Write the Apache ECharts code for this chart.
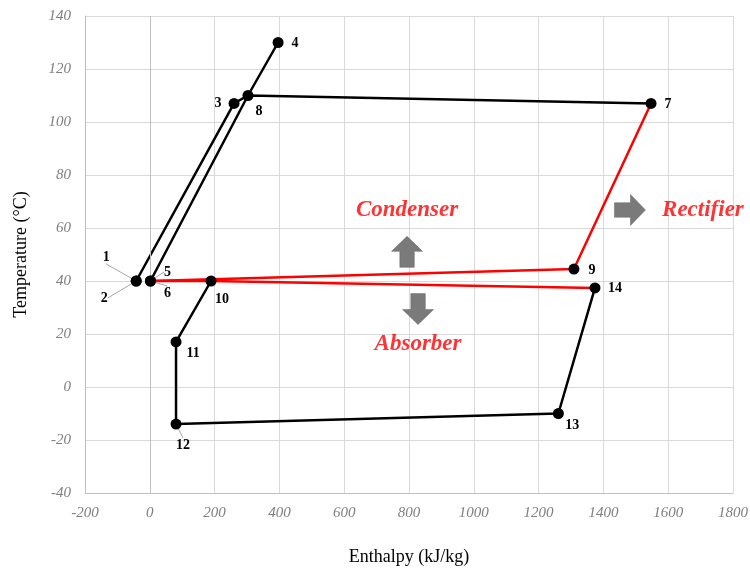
<!DOCTYPE html>
<html><head><meta charset="utf-8">
<script src="https://cdn.jsdelivr.net/npm/echarts@6/dist/echarts.min.js"></script>
<style>html,body{margin:0;padding:0;background:#fff}#c{width:750px;height:569px}</style>
</head><body><div id="c"></div>
<script>
// State points: [enthalpy kJ/kg, temperature °C]
const pointNames = ['1','2','3','4','5','6','7','8','9','10','11','12','13','14'];
const pointH = [-42, -42, 260, 396, 2, 2, 1547, 303, 1309, 189, 81, 81, 1261, 1374];
const pointT = [40, 40, 107, 130, 40, 40, 107, 110, 44.5, 40, 17, -14, -10, 37.4];
// label offsets in px (presentation)
const labelOffsets = {
  '1': [-30, -24], '2': [-32, 17], '3': [-16, 0], '4': [17, 1], '5': [17, -9], '6': [17, 12],
  '7': [17, 1], '8': [11, 16], '9': [18, 1], '10': [11, 18], '11': [17, 11], '12': [7, 21],
  '13': [14, 12], '14': [20, 1]
};
const leaderLabels = ['1', '2', '5', '6', '12'];
// black cycle paths (by point name)
const blackPaths = [['1','3','8','7'], ['6','8','4'], ['10','11','12','13','14']];
const redPaths = [['7','9','5'], ['14','10','6']];
// annotations
const annoText = ['Condenser', 'Absorber', 'Rectifier'];
const annoH = [794, 828, 1581];
const annoT = [66.8, 16.2, 66.8];
const arrowDir = ['up', 'down', 'right'];
const arrowH = [794, 828, 1482];
const arrowT = [51, 29.4, 66.8];

const pt = n => { const i = pointNames.indexOf(n); return [pointH[i], pointT[i]]; };
const serif = '"Liberation Serif", "DejaVu Serif", serif';

const arrowPaths = {
  right: 'path://M0,8 L16,8 L16,0 L31,15 L16,30 L16,22 L0,22 Z',
  up: 'path://M8,31 L8,15 L0,15 L15,0 L30,15 L22,15 L22,31 Z',
  down: 'path://M8,0 L8,16 L0,16 L15,31 L30,16 L22,16 L22,0 Z'
};

const series = [];
blackPaths.forEach(p => series.push({
  type: 'line', data: p.map(pt), symbol: 'none', z: 2,
  lineStyle: { color: '#000', width: 2.5 }
}));
redPaths.forEach(p => series.push({
  type: 'line', data: p.map(pt), symbol: 'none', z: 3,
  lineStyle: { color: '#ff0000', width: 2.5 }
}));
// points without leader lines
const plainIdx = pointNames.map((n, i) => i).filter(i => leaderLabels.indexOf(pointNames[i]) < 0);
const leaderIdx = pointNames.map((n, i) => i).filter(i => leaderLabels.indexOf(pointNames[i]) >= 0);
series.push({
  type: 'scatter', symbolSize: 11, z: 5,
  itemStyle: { color: '#000', opacity: 1 },
  data: plainIdx.map(i => ({
    value: [pointH[i], pointT[i]],
    label: { show: true, formatter: pointNames[i], position: 'inside', offset: labelOffsets[pointNames[i]],
      color: '#000', fontFamily: serif, fontWeight: 'bold', fontSize: 14 }
  }))
});
series.push({
  type: 'scatter', symbolSize: 11, z: 5,
  itemStyle: { color: '#000', opacity: 1 },
  label: { show: true, position: 'inside', color: '#000', fontFamily: serif, fontWeight: 'bold', fontSize: 14 },
  labelLine: { show: true, lineStyle: { color: '#a6a6a6', width: 1 } },
  labelLayout: p => {
    const o = labelOffsets[pointNames[leaderIdx[p.dataIndex]]];
    return { dx: o[0], dy: o[1] };
  },
  data: leaderIdx.map(i => ({
    value: [pointH[i], pointT[i]],
    label: { formatter: pointNames[i] }
  }))
});
series.push({
  type: 'scatter', z: 4, silent: true,
  data: arrowDir.map((d, i) => ({
    value: [arrowH[i], arrowT[i]], symbol: arrowPaths[d],
    symbolSize: [31, 31], itemStyle: { color: '#7a7a7a', opacity: 1, borderColor: '#666', borderWidth: 0.5 }
  }))
});
series.push({
  type: 'scatter', z: 6, symbolSize: 1, itemStyle: { color: 'transparent' }, silent: true,
  data: annoText.map((t, i) => ({
    value: [annoH[i], annoT[i]],
    label: { show: true, formatter: t, position: 'inside',
      align: i === 2 ? 'left' : 'center',
      color: '#ff0000', fontFamily: serif, fontWeight: 'bold', fontStyle: 'italic', fontSize: 23 }
  }))
});
// zero vertical line
series.push({
  type: 'line', data: [], markLine: { silent: true, symbol: 'none', label: { show: false },
    lineStyle: { color: '#bfbfbf', type: 'solid', width: 1 }, data: [{ xAxis: 0 }] }
});

const chart = echarts.init(document.getElementById('c'), null, { renderer: 'canvas' });
chart.setOption({
  animation: false,
  grid: { left: 85, right: 17, top: 16, bottom: 76, outerBoundsMode: 'none', containLabel: false },
  xAxis: {
    type: 'value', min: -200, max: 1800, interval: 200,
    name: 'Enthalpy (kJ/kg)', nameLocation: 'middle', nameGap: 55,
    nameTextStyle: { fontFamily: serif, fontSize: 18, color: '#000' },
    axisLine: { show: true, onZero: false, lineStyle: { color: '#bfbfbf' } },
    axisTick: { show: false },
    axisLabel: { fontFamily: serif, fontStyle: 'italic', fontSize: 15, color: '#7f7f7f', margin: 13,
      formatter: v => String(v) },
    splitLine: { show: true, lineStyle: { color: '#d9d9d9' } }
  },
  yAxis: {
    type: 'value', min: -40, max: 140, interval: 20,
    name: 'Temperature (°C)', nameLocation: 'middle', nameGap: 55,
    nameTextStyle: { fontFamily: serif, fontSize: 18, color: '#000' },
    axisLine: { show: true, onZero: false, lineStyle: { color: '#bfbfbf' } },
    axisTick: { show: false },
    axisLabel: { fontFamily: serif, fontStyle: 'italic', fontSize: 15, color: '#7f7f7f', margin: 14,
      formatter: v => String(v) },
    splitLine: { show: true, lineStyle: { color: '#d9d9d9' } }
  },
  series
});
</script></body></html>
